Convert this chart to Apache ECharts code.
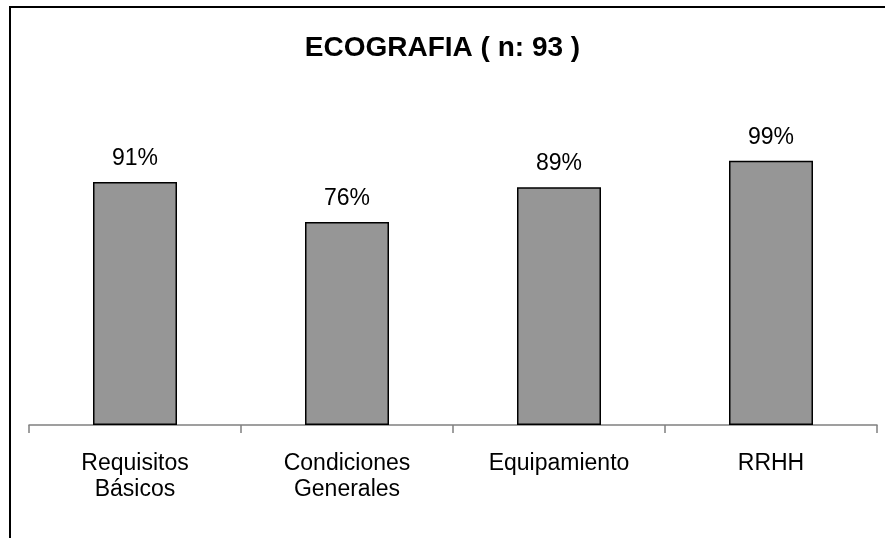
<!DOCTYPE html>
<html>
<head>
<meta charset="utf-8">
<script src="https://cdn.jsdelivr.net/npm/echarts@6/dist/echarts.min.js"></script>
<style>
	html, body { margin: 0; padding: 0; background: #fff; }
	#chart-container { width: 885px; height: 538px; }
</style>
</head>
<body>
<div id="chart-container"></div>
<script>
var categories = ['Requisitos\nBásicos', 'Condiciones\nGenerales', 'Equipamiento', 'RRHH'];
var values = [91, 76, 89, 99];
var titleText = 'ECOGRAFIA ( n: 93 )';

var dom = document.getElementById('chart-container');
var myChart = echarts.init(dom, null, {
	renderer: 'canvas',
	useDirtyRect: false
});

var font = '"Liberation Sans", Arial, sans-serif';

var option = {
	animation: false,
	textStyle: { fontFamily: font },
	title: {
		text: titleText,
		left: 'center',
		top: 29,
		textStyle: {
			fontFamily: font,
			fontSize: 28,
			fontWeight: 'bold',
			color: '#000'
		}
	},
	graphic: [{
		type: 'rect',
		shape: { x: 10, y: 7, width: 1000, height: 1000 },
		style: { fill: 'none', stroke: '#000', lineWidth: 2 },
		silent: true
	}],
	grid: {
		left: 29,
		right: 8,
		top: 158,
		bottom: 113,
		containLabel: false
	},
	xAxis: {
		type: 'category',
		data: categories,
		axisLine: { lineStyle: { color: '#808080', width: 1.5 } },
		axisTick: { show: true, length: 8, alignWithLabel: false, lineStyle: { color: '#808080', width: 1.5 } },
		axisLabel: {
			color: '#000',
			fontSize: 23,
			lineHeight: 26,
			margin: 26,
			interval: 0
		}
	},
	yAxis: {
		type: 'value',
		min: 0,
		max: 100,
		show: false
	},
	series: [{
		type: 'bar',
		data: values,
		barWidth: 84,
		itemStyle: {
			color: '#969696',
			borderColor: '#000',
			borderWidth: 1.5
		},
		label: {
			show: true,
			position: 'top',
			distance: 12,
			formatter: '{c}%',
			fontSize: 23,
			color: '#000'
		}
	}]
};

myChart.setOption(option);
window.addEventListener('resize', myChart.resize);
</script>
</body>
</html>
